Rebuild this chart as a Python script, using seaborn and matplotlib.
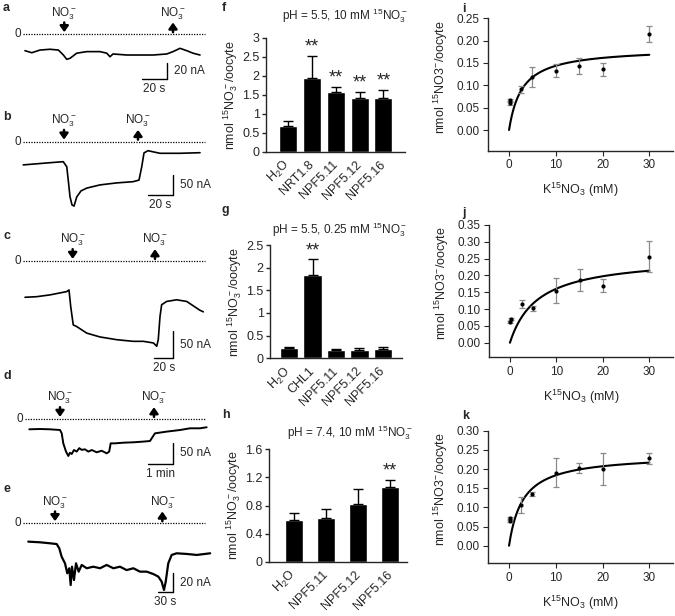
import numpy as np
import matplotlib
matplotlib.use('Agg')
import matplotlib.pyplot as plt
from matplotlib.transforms import offset_copy, ScaledTranslation
import seaborn as sns

# ---- a-e: two-electrode recordings (time in s, current in nA, 0 = zero line) ----
a_t = [1.6, 7, 13.6, 21.6, 28.3, 32.3, 35, 37.6, 43, 51, 61.6, 67, 69.6, 72, 83, 93.6, 104, 115, 120, 125.6, 131, 136, 141.6]
a_i = [-20.8, -23.4, -20, -19, -20, -26.3, -31.8, -30.5, -24, -22, -22, -24, -28.5, -25, -26.3, -26.3, -26.3, -25, -22, -17.8, -20.8, -24, -26.3]
a_no3 = [33, 120]

b_t = [0.2, 21.6, 32.2, 35, 36.2, 37.6, 39.2, 40.8, 43, 46.4, 51, 61.6, 75, 88, 92.8, 95, 96.8, 100, 109.6, 125.6, 141.6]
b_i = [-58, -52.5, -50, -62.5, -96, -137.5, -158, -161, -138, -123, -116, -108, -103, -100, -96, -62.5, -28, -22.5, -29, -29, -27.5]
b_no3 = [32.8, 92]

c_t = [2.1, 14.2, 28, 45.2, 47.6, 49.4, 52, 55.6, 66, 79.7, 97, 114, 124.6, 135, 138.4, 140, 141.8, 143.5, 148.7, 159, 169.4, 183, 186.6]
c_i = [-66.4, -65.3, -62, -56, -53, -83.5, -117, -120, -132, -139, -144, -147, -147, -150, -156, -144, -101.5, -80, -74, -71, -74, -90, -93]
c_no3 = [51.4, 136.6]

d_t = [10.6, 37, 61.8, 86.5, 90.7, 94.6, 101.3, 107, 111, 115.4, 121, 127.7, 134, 140, 148, 156.4, 165, 177,
       189.4, 201.7, 208, 211.6, 222, 242.7, 267.5, 292, 308.8, 313, 321, 350, 383, 407.6, 432, 448.7]
d_i = [-23.7, -23, -23.7, -25.3, -33, -56, -75, -85, -77.6, -80.5, -71.3, -75, -67, -71, -69.7, -75, -71.3, -76.6,
       -73, -79, -75, -56, -56, -54.5, -53.6, -52, -50.6, -44.4, -33, -29, -25.3, -21.4, -21.4, -19]
d_no3 = [86.5, 318.6]

e_t = [10.1, 32.5, 51.7, 64.5, 69.5, 74, 80.4, 84.8, 88.6, 91.3, 93.8, 97.6, 101.5, 106.6, 112.4, 122, 134.7, 147.5,
       160.2, 173, 185.7, 198.5, 211.3, 224, 236.9, 249.5, 259.1, 265.5, 270, 273.3, 278.2, 284.7, 294.2, 313.4, 332.6, 358.5]
e_i = [-20, -20.7, -21.8, -22.6, -27.3, -36.4, -43.6, -54.5, -49, -67.3, -47.3, -61.8, -43.6, -52.7, -45.4, -49, -47.3, -49,
       -45.4, -49, -47.3, -51, -49, -52.7, -52.7, -55.3, -58.1, -63.6, -72.7, -63.6, -43.6, -34.5, -32.7, -33.4, -34.5, -32.7]
e_no3 = [61.3, 266.8]

# ---- f-h: 15N uptake (nmol 15NO3-/oocyte), mean and SD ----
f_labels = ['H$_2$O', 'NRT1.8', 'NPF5.11', 'NPF5.12', 'NPF5.16']
f_mean = [0.67, 1.95, 1.58, 1.42, 1.41]
f_err = [0.14, 0.58, 0.13, 0.16, 0.22]
f_sig = ['', '**', '**', '**', '**']

g_labels = ['H$_2$O', 'CHL1', 'NPF5.11', 'NPF5.12', 'NPF5.16']
g_mean = [0.22, 1.83, 0.18, 0.19, 0.20]
g_err = [0.04, 0.36, 0.02, 0.04, 0.04]
g_sig = ['', '**', '', '', '']

h_labels = ['H$_2$O', 'NPF5.11', 'NPF5.12', 'NPF5.16']
h_mean = [0.60, 0.62, 0.82, 1.07]
h_err = [0.10, 0.13, 0.22, 0.10]
h_sig = ['', '', '', '**']

# ---- i-k: kinetics vs K15NO3 (mM), with Michaelis-Menten fit ----
conc = [0.1, 0.25, 2.5, 5, 10, 15, 20, 30]
i_mean = [0.060, 0.067, 0.091, 0.118, 0.133, 0.143, 0.136, 0.215]
i_err = [0.003, 0.003, 0.008, 0.022, 0.015, 0.018, 0.015, 0.017]
i_km, i_vmax = 2.8, 0.184
j_mean = [0.0625, 0.070, 0.115, 0.102, 0.155, 0.187, 0.169, 0.256]
j_err = [0.003, 0.003, 0.012, 0.008, 0.036, 0.032, 0.019, 0.045]
j_km, j_vmax = 6.0, 0.257
k_mean = [0.065, 0.073, 0.106, 0.135, 0.190, 0.203, 0.200, 0.228]
k_err = [0.003, 0.003, 0.020, 0.005, 0.038, 0.013, 0.041, 0.015]
k_km, k_vmax = 2.96, 0.238

sns.set_style('ticks')
plt.rcParams['font.family'] = ['Liberation Sans', 'DejaVu Sans']
plt.rcParams['mathtext.fontset'] = 'custom'
plt.rcParams['mathtext.rm'] = 'Liberation Sans'
plt.rcParams['mathtext.it'] = 'Liberation Sans:italic'
plt.rcParams['mathtext.bf'] = 'Liberation Sans:bold'
plt.rcParams['mathtext.default'] = 'regular'
plt.rcParams['axes.linewidth'] = 1.0

W, H = 675, 616
fig = plt.figure(figsize=(6.75, 6.16), dpi=100)


def px_axes(l, t, r, b):
    return fig.add_axes([l / W, 1 - b / H, (r - l) / W, (b - t) / H])


def fig_text(x, y, s, **kw):
    fig.text(x / W, 1 - y / H, s, **kw)


def draw_trace(top, bottom, x0, zero_y, s_px, na_px, t, cur, events, bar_xy, bar_na, bar_s, na_txt, s_txt, lw=1.2):
    ax = px_axes(0, top, 220, bottom)
    ax.set_xlim((0 - x0) * s_px, (220 - x0) * s_px)
    ax.set_ylim(-(bottom - zero_y) * na_px, -(top - zero_y) * na_px)
    ax.axis('off')
    ax.plot([0, (205 - x0) * s_px], [0, 0], ls=(0, (1, 1.1)), lw=0.9, color='k')
    ax.text(-1.5 * s_px, 0, '0', ha='right', va='center', fontsize=8.5)
    sns.lineplot(x=t, y=cur, ax=ax, color='black', lw=lw, sort=False, estimator=None)
    lo = offset_copy(ax.transData, fig=fig, y=1.5, units='points')
    hi = offset_copy(ax.transData, fig=fig, y=8.5, units='points')
    for n, te in enumerate(events):
        ax.annotate(r'NO$_3^-$', xy=(te, 0), xytext=(0, 13), textcoords='offset points',
                    ha='center', va='baseline', fontsize=8.5)
        head, tail = (lo, hi) if n == 0 else (hi, lo)
        ax.annotate('', xy=(te, 0), xycoords=head, xytext=(te, 0), textcoords=tail,
                    arrowprops=dict(arrowstyle='-|>,head_length=0.35,head_width=0.25', lw=1.8,
                                    color='k', shrinkA=0, shrinkB=0, mutation_scale=10))
    bx = (bar_xy[0] - x0) * s_px
    by = -(bar_xy[1] - zero_y) * na_px
    ax.plot([bx, bx], [by, by + bar_na], color='k', lw=1)
    ax.plot([bx - bar_s, bx], [by, by], color='k', lw=1)
    ax.annotate(na_txt, xy=(bx, by + bar_na / 2), xytext=(5, 0), textcoords='offset points',
                ha='left', va='center', fontsize=8.5)
    ax.annotate(s_txt, xy=(bx - bar_s / 2, by), xytext=(0, -3), textcoords='offset points',
                ha='center', va='top', fontsize=8.5)


def draw_bars(box, labels, mean, err, sig, ymax, ystep, xlim, width, title, title_xy):
    ax = px_axes(*box)
    sns.barplot(x=labels, y=mean, color='black', saturation=1, width=width, ax=ax)
    x = np.arange(len(labels))
    ax.errorbar(x, mean, yerr=[np.zeros(len(err)), err], fmt='none', ecolor='k',
                elinewidth=1, capsize=3.5, capthick=1)
    for xi, m, e, s in zip(x, mean, err, sig):
        if s:
            ax.annotate(s, xy=(xi, m + e), xytext=(0, 0), textcoords='offset points',
                        ha='center', va='bottom', fontsize=13)
    ax.set_xlim(xlim)
    ax.set_ylim(0, ymax)
    ax.set_yticks(np.arange(0, ymax + 1e-9, ystep))
    ax.yaxis.set_major_formatter('{x:g}')
    ax.set_xticks(x)
    ax.set_xticklabels(labels, rotation=45, ha='right', va='center', rotation_mode='anchor', fontsize=9)
    shift = ScaledTranslation(5 / 100, 0, fig.dpi_scale_trans)
    for tl in ax.get_xticklabels():
        tl.set_transform(tl.get_transform() + shift)
    ax.tick_params(axis='x', length=0, pad=8)
    ax.tick_params(axis='y', length=3, width=1, labelsize=9, pad=1.5)
    ax.set_xlabel('')
    ax.set_ylabel('')
    sns.despine(ax=ax)
    fig_text(title_xy[0], title_xy[1], title, ha='center', va='center', fontsize=8.5)
    fig_text(box[0] - 35, (box[1] + box[3]) / 2, r'nmol $^{15}$NO$_3^-$/oocyte', rotation=90,
             ha='center', va='center', fontsize=9)


def draw_kin(box, mean, err, km, vmax, ylim, ytop, ystep):
    ax = px_axes(*box)
    s = np.linspace(0, 30, 300)
    sns.lineplot(x=s, y=vmax * s / (km + s), ax=ax, color='black', lw=1.5)
    ax.errorbar(conc, mean, yerr=err, fmt='none', ecolor='#8a8a8a', elinewidth=0.9, capsize=2, capthick=0.9)
    sns.scatterplot(x=conc, y=mean, ax=ax, color='black', s=9, linewidth=0, zorder=5)
    ax.set_xlim(-4.5, 35)
    ax.set_ylim(ylim, ytop)
    ax.set_xticks([0, 10, 20, 30])
    ax.set_yticks(np.arange(0, ytop + 1e-9, ystep))
    ax.yaxis.set_major_formatter('{x:.2f}')
    ax.tick_params(length=3.5, width=0.8, labelsize=8.5, pad=2.5)
    ax.set_xlabel(r'K$^{15}$NO$_3$ (mM)', fontsize=9, labelpad=7)
    sns.despine(ax=ax)
    fig_text(box[0] - 47, (box[1] + box[3]) / 2 - 8, r'nmol $^{15}$NO3$^{-}$/oocyte', rotation=90,
             ha='center', va='center', fontsize=9)


draw_trace(0, 105, 23, 34.3, 0.8, 1.27, a_t, a_i, a_no3, (166.7, 79), 20, 20, '20 nA', '20 s')
draw_trace(108, 222, 23, 141.7, 0.8, 2.5, b_t, b_i, b_no3, (172.7, 195), 50, 20, '50 nA', '20 s')
draw_trace(225, 380, 23, 261, 1.035, 1.83, c_t, c_i, c_no3, (173.3, 358.3), 50, 20, '50 nA', '20 s')
draw_trace(383, 483, 25, 419, 2.47, 2.3, d_t, d_i, d_no3, (172.7, 464.3), 50, 60, '50 nA', '1 min', lw=1.4)
draw_trace(486, 616, 23, 523.3, 1.915, 1.09, e_t, e_i, e_no3, (173.3, 591.7), 20, 30, '20 nA', '30 s', lw=1.6)

draw_bars((266, 37.7, 405, 151.7), f_labels, f_mean, f_err, f_sig, 3, 0.5, (-0.91, 4.9), 0.75,
          r'pH = 5.5, 10 mM $^{15}$NO$_3^-$', (345, 16))
draw_bars((270, 245, 402, 358.3), g_labels, g_mean, g_err, g_sig, 2.5, 0.5, (-0.81, 4.81), 0.77,
          r'pH = 5.5, 0.25 mM $^{15}$NO$_3^-$', (340, 230))
draw_bars((269, 449.3, 407, 561.7), h_labels, h_mean, h_err, h_sig, 1.6, 0.4, (-0.78, 3.52), 0.57,
          r'pH = 7.4, 10 mM $^{15}$NO$_3^-$', (350, 433))

draw_kin((488, 18.3, 672.7, 151), i_mean, i_err, i_km, i_vmax, -0.047, 0.25, 0.05)
draw_kin((489, 225, 672.7, 357.3), j_mean, j_err, j_km, j_vmax, -0.0434, 0.35, 0.05)
draw_kin((488, 430.7, 672.7, 563.3), k_mean, k_err, k_km, k_vmax, -0.0459, 0.30, 0.05)

for lab, x, y in [('a', 3, 8), ('b', 3, 117), ('c', 3, 236), ('d', 3, 376), ('e', 3, 489),
                  ('f', 222, 8), ('g', 222, 210), ('h', 222, 415),
                  ('i', 462, 9), ('j', 462, 213), ('k', 462, 416)]:
    fig_text(x, y, lab, ha='left', va='center', fontsize=9, fontweight='bold')

fig.savefig('out.png', dpi=100)
